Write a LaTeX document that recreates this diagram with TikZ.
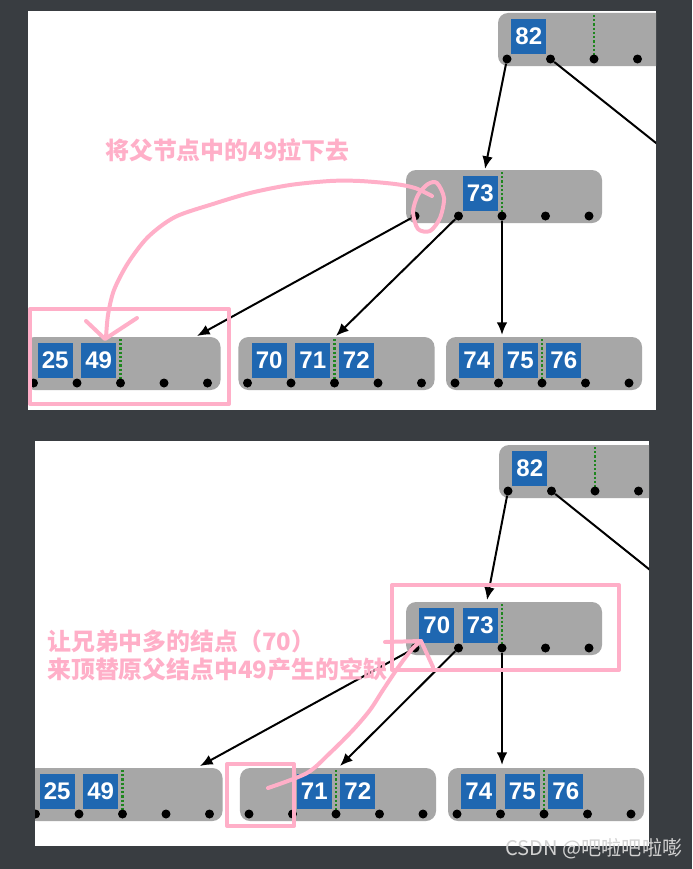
\documentclass[tikz,border=0pt]{standalone}
\usepackage{fontspec}
\usepackage{xcolor}
\usepackage{tikz}
\usetikzlibrary{arrows.meta,calc}
\newfontfamily\cjk{Noto Sans CJK SC}
\newfontfamily\numfont{Liberation Sans}
\definecolor{pagedark}{HTML}{393D41}
\definecolor{keyblue}{HTML}{1F67B1}
\definecolor{boxgray}{HTML}{A7A7A7}
\definecolor{markpink}{HTML}{FFAFC8}
\definecolor{divgreen}{HTML}{1E861E}
\definecolor{wmgray}{HTML}{D2D2D2}

% one B-tree node: name, x of first pointer, top, slot/key list
\newcommand{\btnode}[4]{%
  \node[nodebox] (#1) at (#2+89,#3+26.5) {};
  \draw[divider] (#2+87,#3+2) -- (#2+87,#3+44);
  \foreach \s/\k in {#4} \node[keybox] (#1-k\k) at (#2+43.5*\s-21.75,#3+23.5) {\k};
  \foreach \i in {1,...,5} \node[ptr] (#1-p\i) at (#2+43.5*\i-43.5,#3+46) {};
}

\begin{document}
\begin{tikzpicture}[x=0.03cm,y=-0.03cm,>={Latex[length=0.38cm,width=0.32cm]},
  nodebox/.style={fill=boxgray, rounded corners=0.3cm, minimum width=5.88cm, minimum height=1.59cm, inner sep=0},
  keybox/.style={fill=keyblue, text=white, minimum size=1.05cm, inner sep=0, font=\numfont\bfseries\fontsize{20.5}{21}\selectfont},
  ptr/.style={circle, fill=black, minimum size=0.27cm, inner sep=0},
  divider/.style={divgreen, line width=1.9pt, dash pattern=on 1.9pt off 1.7pt},
  link/.style={->, line width=1.7pt},
  penmark/.style={markpink, line width=3.4pt, line cap=round, line join=round},
  note/.style={markpink, anchor=west, inner sep=0, font=\cjk\bfseries\fontsize{20.4}{24}\selectfont}]
\useasboundingbox (0,0) rectangle (692,869);
\fill[pagedark] (0,0) rectangle (692,869);
\fill[white] (28,11) rectangle (656,410);
\fill[white] (35,441) rectangle (649,846);

% upper panel: 49 pulled down
\begin{scope}
\clip (28,11) rectangle (656,410);
\btnode{a82}{507}{13}{1/82}
\btnode{a73}{415}{170}{2/73}
\btnode{aL}{33.5}{337}{1/25,2/49}
\btnode{aM}{247.5}{337}{1/70,2/71,3/72}
\btnode{aR}{455}{337}{1/74,2/75,3/76}
\coordinate (a73in) at (485,169);
\coordinate (aout) at (700,178);
\coordinate (aLin) at (197,336);
\coordinate (aMin) at (336,336);
\coordinate (aRin) at (502,335);
\draw[link] (a82-p1) -- (a73in);
\draw[line width=1.7pt] (a82-p2) -- (aout);
\draw[link] (a73-p1) -- (aLin);
\draw[link] (a73-p2) -- (aMin);
\draw[link] (a73-p3) -- (aRin);
% pen marks
\draw[penmark] (30,309) rectangle (229,404);
\draw[penmark] plot[smooth cycle] coordinates {(437,183) (444,198) (440,218) (430,231) (418,229) (413,212) (418,195) (428,184)};
\draw[penmark] plot[smooth] coordinates {(432,196) (415,188) (395,184) (360,181) (330,181) (290,185) (250,193) (213,204) (175,217) (148,237) (128,263) (114,290) (108,315) (106,338)};
\draw[penmark] (86,321) -- (105,339) -- (137,318);
\node[note] (t1) at (105,150) {将父节点中的49拉下去};
\end{scope}

% lower panel: sibling key moves up
\begin{scope}
\clip (35,441) rectangle (649,846);
\btnode{b82}{508}{445}{1/82}
\btnode{b73}{415}{602}{1/70,2/73}
\btnode{bL}{35.5}{768}{1/25,2/49}
\btnode{bM}{249}{768}{2/71,3/72}
\btnode{bR}{457}{768}{1/74,2/75,3/76}
\coordinate (b73in) at (487,600);
\coordinate (bout) at (700,610);
\coordinate (bLin) at (200,766);
\coordinate (bMin) at (340,766);
\coordinate (bRin) at (502,765);
\draw[link] (b82-p1) -- (b73in);
\draw[line width=1.7pt] (b82-p2) -- (bout);
\draw[link] (b73-p1) -- (bLin);
\draw[link] (b73-p2) -- (bMin);
\draw[link] (b73-p3) -- (bRin);
% pen marks
\draw[penmark] (392,585) rectangle (619,670);
\draw[penmark] (227,764) rectangle (294,826);
\draw[penmark] plot[smooth] coordinates {(268,788) (307,773) (330,753) (353,730) (370,710) (383,690) (395,672) (405,658) (413,648) (421,641)};
\draw[penmark] (385,642) -- (421,641) -- (433,667);
\node[note] (t2) at (47,641) {让兄弟中多的结点（70）};
\node[note] (t3) at (47,669) {来顶替原父结点中49产生的空缺};
\end{scope}

\node[anchor=west, inner sep=0, text=wmgray, font=\cjk\fontsize{17.2}{19}\selectfont] (wm) at (505,849) {CSDN @吧啦吧啦嘭};
\end{tikzpicture}
\end{document}
